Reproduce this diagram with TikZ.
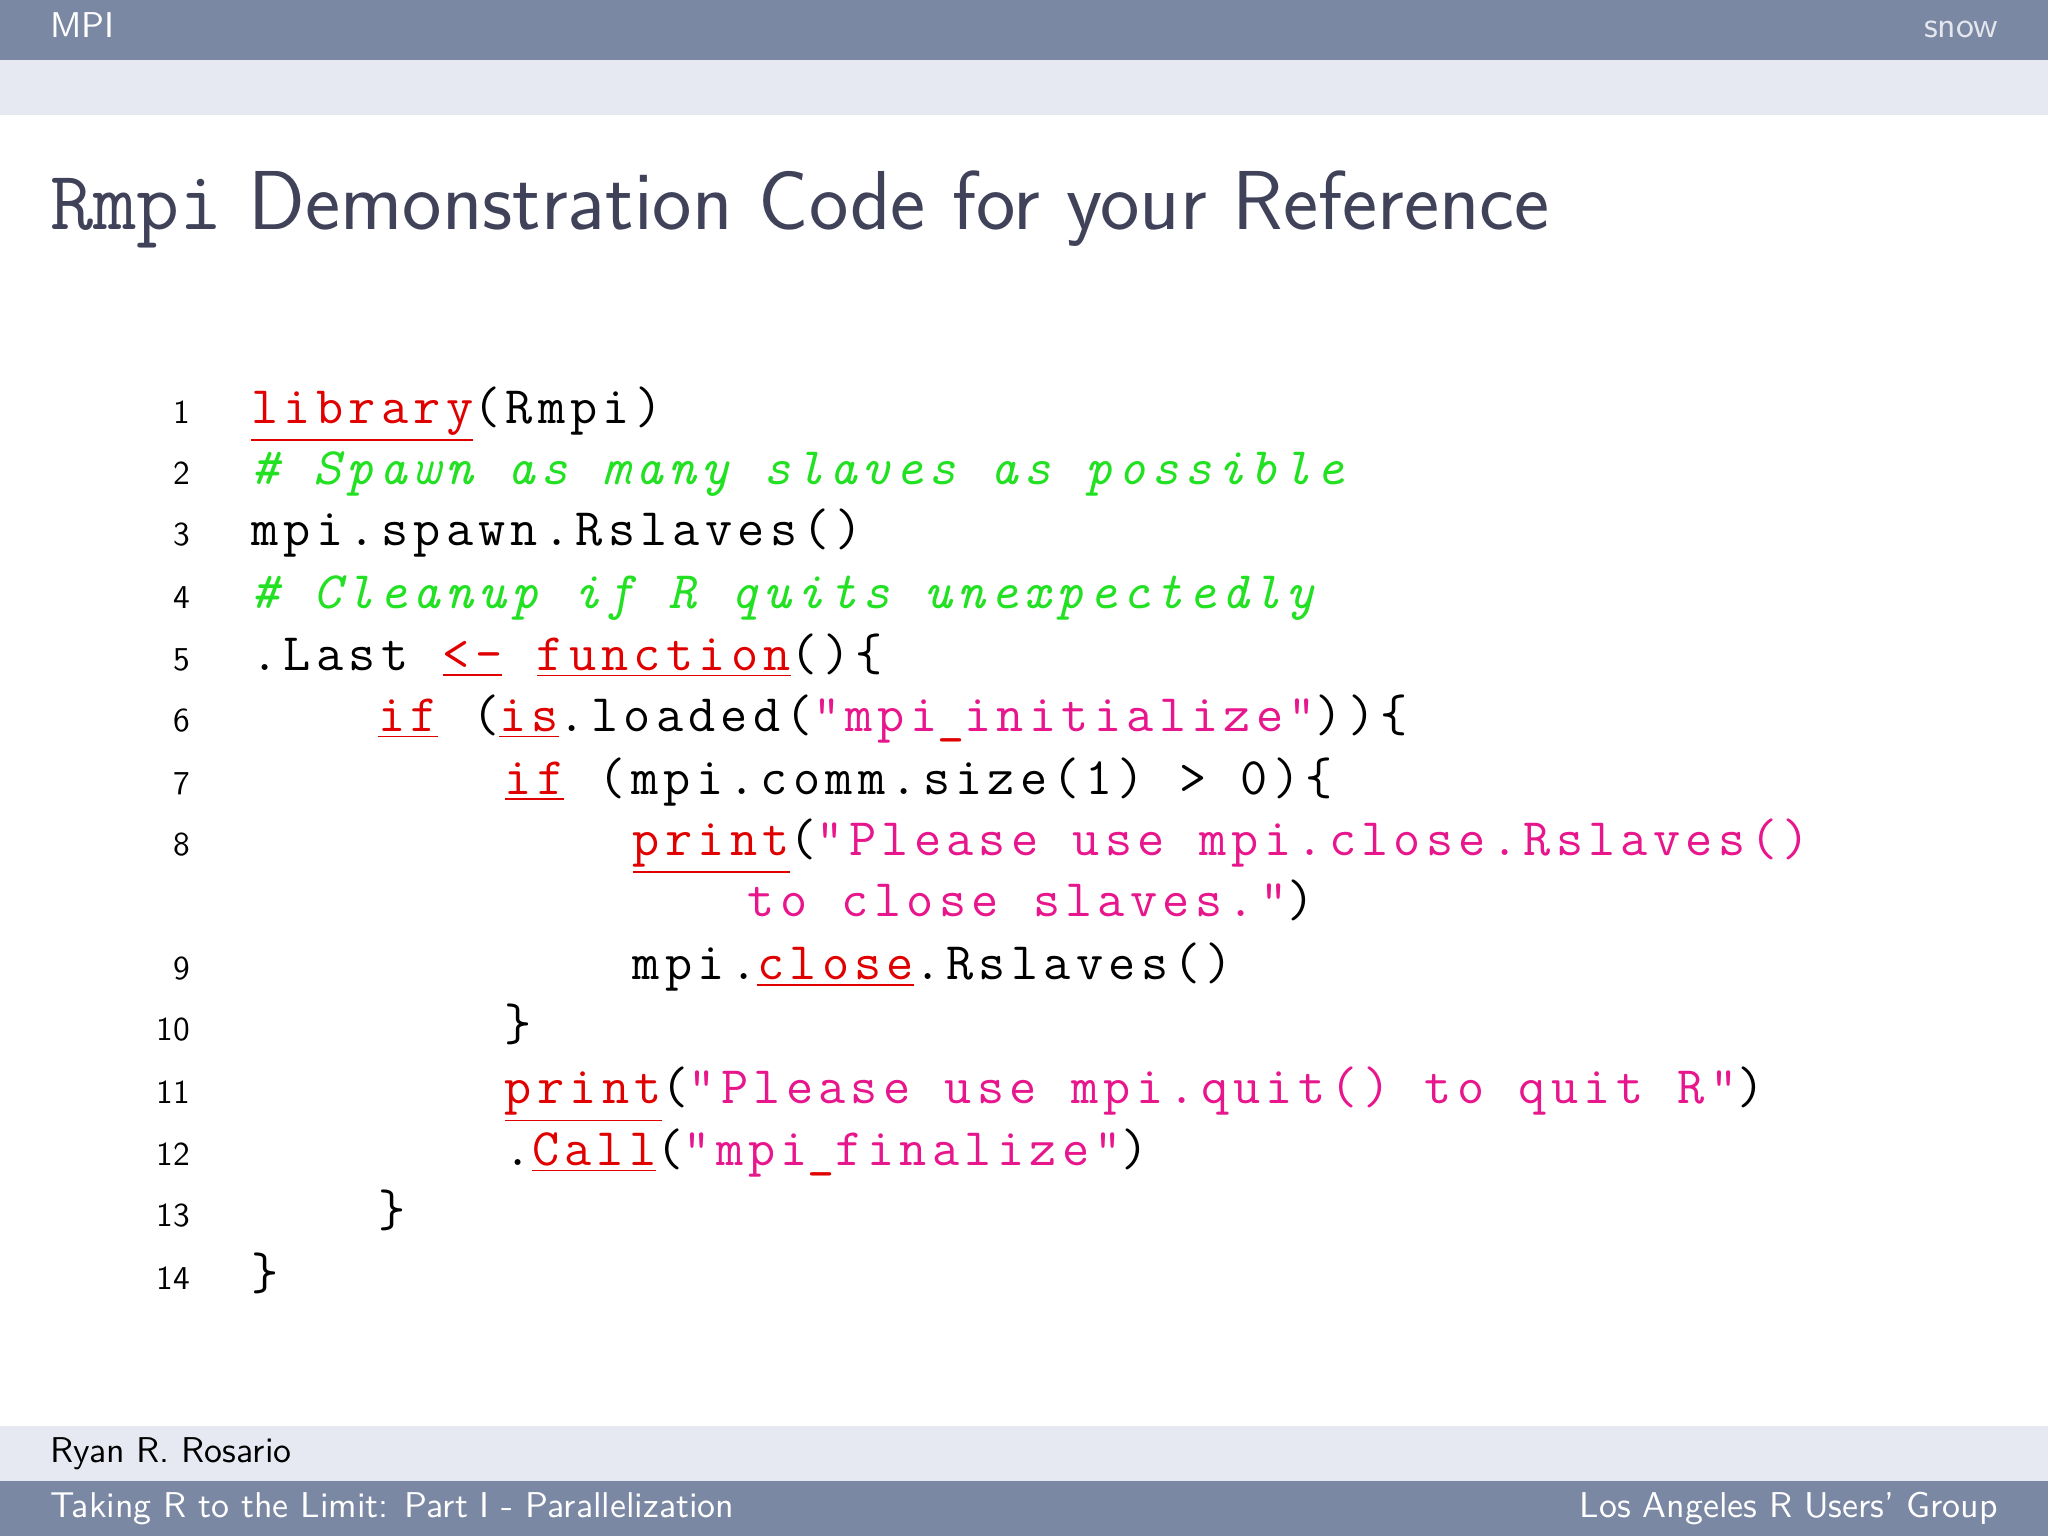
\documentclass[tikz,border=0pt]{standalone}
\usepackage{fontspec}
\newfontfamily\codefont[LetterSpace=10]{Latin Modern Mono}
\newfontfamily\ttplain{Latin Modern Mono}
\definecolor{barc}{HTML}{7B88A4}
\definecolor{bandc}{HTML}{E6E9F1}
\definecolor{titc}{HTML}{404259}
\definecolor{kwc}{HTML}{E00000}
\definecolor{cmc}{HTML}{22E022}
\definecolor{stc}{HTML}{E8168C}
\newcommand{\kw}[1]{\textcolor{kwc}{\underline{#1}}}
\newcommand{\cm}[1]{\textcolor{cmc}{\itshape #1}}
\newcommand{\st}[1]{\textcolor{stc}{#1}}
\newcommand{\us}{\textcolor{kwc}{\_}}
\newcommand{\spc}{\hspace{9.8pt}}
\tikzset{code/.style={anchor=base west,inner sep=0pt,font=\codefont\fontsize{15}{17}\selectfont},
 lno/.style={anchor=base east,inner sep=0pt,font=\sffamily\fontsize{9.5}{11}\selectfont},
 foot/.style={anchor=base west,inner sep=0pt,font=\sffamily\fontsize{10.2}{13}\selectfont}}
\begin{document}
\begin{tikzpicture}[x=0.013061cm,y=-0.013061cm]
\useasboundingbox (0,0) rectangle (1568,1176);
\fill[white] (0,0) rectangle (1568,1176);
\fill[barc] (0,0) rectangle (1568,46);
\fill[bandc] (0,46) rectangle (1568,88);
\fill[bandc] (0,1092) rectangle (1568,1134);
\fill[barc] (0,1134) rectangle (1568,1176);
\node[foot,text=white] (hl) at (38,29) {MPI};
\node[foot,anchor=base east,text=white!80!barc] (hr) at (1530,29) {snow};
\node[anchor=base west,inner sep=0pt,text=titc,font=\sffamily\fontsize{23.8}{28}\selectfont] (title) at (38,176) {{\ttplain Rmpi} Demonstration Code for your Reference};
\node[foot] (f1) at (38,1120) {Ryan R. Rosario};
\node[foot,text=white] (f2) at (38,1162) {Taking R to the Limit: Part I - Parallelization};
\node[foot,anchor=base east,text=white] (f3) at (1530,1162) {Los Angeles R Users' Group};
\foreach \n/\yy in {1/324,2/371,3/418,4/466,5/513,6/560,7/608,8/655,9/750,10/797,11/845,12/892,13/939,14/987}
  \node[lno] (ln\n) at (146,\yy) {\n};
\node[code] (c1) at (192,324) {\kw{library}(Rmpi)};
\node[code] (c2) at (192,371) {\cm{\#\spc Spawn\spc as\spc many\spc slaves\spc as\spc possible}};
\node[code] (c3) at (192,418) {mpi.spawn.Rslaves()};
\node[code] (c4) at (192,466) {\cm{\#\spc Cleanup\spc if\spc R\spc quits\spc unexpectedly}};
\node[code] (c5) at (192,513) {.Last\spc\kw{<-}\spc\kw{function}()\{};
\node[code] (c6) at (289,560) {\kw{if}\spc(\kw{is}.loaded(\st{"mpi\us initialize"}))\{};
\node[code] (c7) at (386,608) {\kw{if}\spc(mpi.comm.size(1)\spc>\spc0)\{};
\node[code] (c8) at (484,655) {\kw{print}(\st{"Please\spc use\spc mpi.close.Rslaves()}};
\node[code] (c8b) at (572,702) {\st{to\spc close\spc slaves."}{)}};
\node[code] (c9) at (484,750) {mpi.\kw{close}.Rslaves()};
\node[code] (c10) at (386,797) {\}};
\node[code] (c11) at (386,845) {\kw{print}(\st{"Please\spc use\spc mpi.quit()\spc to\spc quit\spc R"})};
\node[code] (c12) at (386,892) {.\kw{Call}(\st{"mpi\us finalize"})};
\node[code] (c13) at (289,939) {\}};
\node[code] (c14) at (192,987) {\}};
\end{tikzpicture}
\end{document}
